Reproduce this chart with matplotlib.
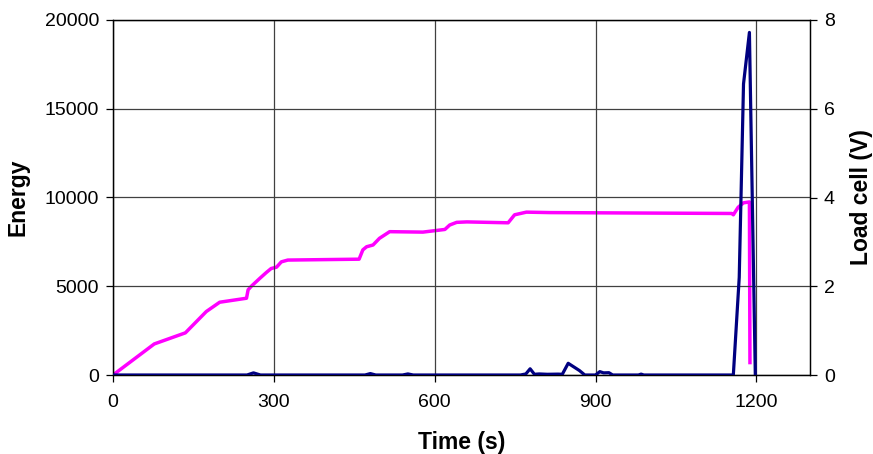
import numpy as np
import matplotlib
matplotlib.use("Agg")
import matplotlib.pyplot as plt

# Energie (linke Achse), dunkelblau
t_energy = [0, 250, 262, 275, 470, 480, 490, 540, 550, 560, 760, 770, 778, 786, 795,
            810, 830, 838, 849, 870, 880, 900, 908, 915, 925, 932, 940, 980, 985, 990,
            1157, 1168, 1176, 1187, 1198]
energy = [0, 0, 120, 0, 0, 80, 0, 0, 60, 0, 0, 60, 350, 40, 60,
          40, 50, 40, 660, 250, 0, 0, 190, 120, 130, 0, 0, 0, 50, 0,
          0, 5500, 16400, 19300, 0]

# Kraftmessdose (rechte Achse), magenta
t_load = [0, 77, 135, 174, 199, 249, 252, 258, 274, 286, 295, 305, 314, 326, 459,
          466, 473, 485, 497, 516, 578, 619, 628, 641, 660, 737, 749, 771, 815,
          1154, 1157, 1166, 1176, 1187, 1188]
load = [0, 0.70, 0.95, 1.43, 1.64, 1.73, 1.92, 2.00, 2.18, 2.31, 2.40, 2.43, 2.55, 2.59, 2.61,
        2.82, 2.89, 2.93, 3.08, 3.23, 3.22, 3.28, 3.38, 3.44, 3.45, 3.43, 3.61, 3.67, 3.66,
        3.64, 3.61, 3.78, 3.88, 3.90, 0.28]

x_ticks = [0, 300, 600, 900, 1200]
y_ticks = [0, 5000, 10000, 15000, 20000]
y2_ticks = [0, 2, 4, 6, 8]

plt.rcParams['font.family'] = ['Liberation Sans', 'DejaVu Sans']

fig = plt.figure(figsize=(8.73, 4.54), dpi=100)
ax = fig.add_axes([113 / 873, 1 - 375 / 454, 697 / 873, 355 / 454])
ax2 = ax.twinx()

ax.plot(t_energy, energy, color='#000080', lw=2.3, zorder=3)
ax2.plot(t_load, load, color='#FF00FF', lw=2.5)
ax.set_zorder(ax2.get_zorder() + 1)
ax.patch.set_visible(False)

ax.set_xlim(0, 1300)
ax.set_ylim(0, 20000)
ax2.set_ylim(0, 8)
ax.set_xticks(x_ticks)
ax.set_yticks(y_ticks)
ax2.set_yticks(y2_ticks)

ax.grid(True, color='#404040', lw=0.9)
for a in (ax, ax2):
    a.tick_params(labelsize=14, length=5, width=0.9, direction='out', pad=5)
    for s in a.spines.values():
        s.set_linewidth(0.9)
ax.tick_params(axis='x', pad=9)

ax.set_xlabel('Time (s)', fontsize=16.5, fontweight='bold', labelpad=14)
ax.set_ylabel('Energy', fontsize=16.5, fontweight='bold', labelpad=11)
ax2.set_ylabel('Load cell (V)', fontsize=16.5, fontweight='bold', labelpad=11)

fig.savefig('out.png', dpi=100)
